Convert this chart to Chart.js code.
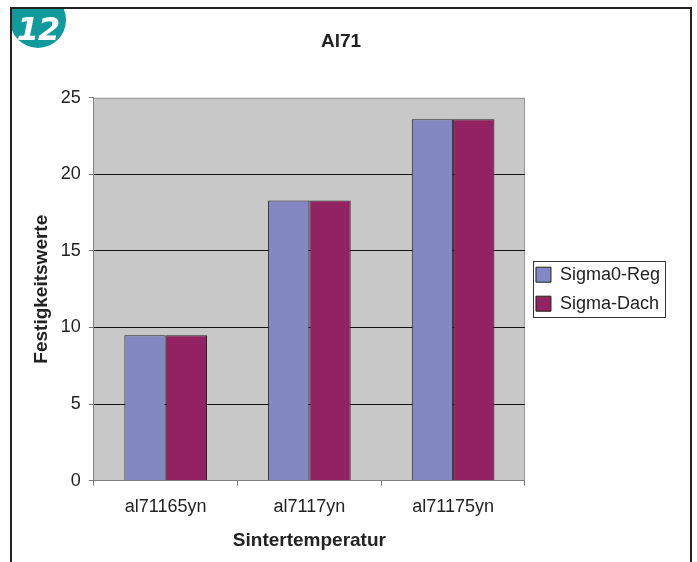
<!DOCTYPE html>
<html>
<head>
<meta charset="utf-8">
<script src="https://cdn.jsdelivr.net/npm/chart.js@4"></script>
<style>
  html, body { margin: 0; padding: 0; background: #fff; }
  #wrap { position: relative; width: 697px; height: 562px; overflow: hidden; }
  #frame { position: absolute; left: 10px; top: 7px; width: 678px; height: 600px;
           border: 2px solid #222; border-bottom: none; }
  #badge { position: absolute; left: 12px; top: 9px; width: 60px; height: 45px; overflow: hidden; }
  #badge .dot { position: absolute; left: -2px; top: -17px; width: 56px; height: 56px;
                border-radius: 50%; background: #119a9b; }
  #badge .num { position: absolute; left: 2px; top: 1px; width: 48px; text-align: center;
                color: #fff; font: italic bold 32px "DejaVu Sans", sans-serif; letter-spacing: -1px; }
  canvas { position: absolute; left: 0; top: 0; }
</style>
</head>
<body>
<div id="wrap">
  <div id="frame"></div>
  <canvas id="chart" width="697" height="562"></canvas>
  <div id="badge"><div class="dot"></div><div class="num">12</div></div>
</div>
<script>
// values
const categories = ['al71165yn', 'al7117yn', 'al71175yn'];
const seriesNames = ['Sigma0-Reg', 'Sigma-Dach'];
const sigma0Reg = [9.5, 18.3, 23.6];
const sigmaDach = [9.5, 18.3, 23.6];
const yMin = 0, yMax = 25, yStep = 5;

const FONT = '"Liberation Sans", Arial, sans-serif';

// grey plot area with a thin border on top/right
const plotBg = {
  id: 'plotBg',
  beforeDraw(chart) {
    const { ctx, chartArea: a } = chart;
    ctx.save();
    ctx.fillStyle = '#c8c8c8';
    ctx.fillRect(a.left, a.top, a.right - a.left, a.bottom - a.top);
    ctx.strokeStyle = '#999';
    ctx.lineWidth = 1;
    ctx.beginPath();
    ctx.moveTo(a.left, a.top + 0.5);
    ctx.lineTo(a.right - 0.5, a.top + 0.5);
    ctx.lineTo(a.right - 0.5, a.bottom);
    ctx.stroke();
    ctx.restore();
  }
};

// box round the legend
const legendBox = {
  id: 'legendBox',
  afterDraw(chart) {
    const boxes = chart.legend.legendHitBoxes;
    if (!boxes || !boxes.length) return;
    let l = Infinity, t = Infinity, r = -Infinity, b = -Infinity;
    boxes.forEach(h => {
      l = Math.min(l, h.left); t = Math.min(t, h.top);
      r = Math.max(r, h.left + h.width); b = Math.max(b, h.top + h.height);
    });
    const ctx = chart.ctx;
    ctx.save();
    ctx.strokeStyle = '#333';
    ctx.lineWidth = 1;
    ctx.strokeRect(Math.round(l - 3) + 0.5, Math.round(t - 5) + 0.5,
                   Math.round(r - l + 8), Math.round(b - t + 9));
    ctx.restore();
  }
};

new Chart(document.getElementById('chart'), {
  type: 'bar',
  data: {
    labels: categories,
    datasets: [{
      label: seriesNames[0],
      data: sigma0Reg,
      backgroundColor: '#8488c2',
      borderColor: '#222',
      borderWidth: 1
    }, {
      label: seriesNames[1],
      data: sigmaDach,
      backgroundColor: '#922262',
      borderColor: '#222',
      borderWidth: 1
    }]
  },
  options: {
    responsive: false,
    animation: false,
    layout: { padding: { left: 12, right: 27, top: 0, bottom: 10 } },
    datasets: { bar: { categoryPercentage: 0.575, barPercentage: 1 } },
    scales: {
      x: {
        grid: { drawOnChartArea: false, tickLength: 5, tickColor: '#777' },
        border: { color: '#808080' },
        ticks: { color: '#222', padding: 11, font: { family: FONT, size: 18 } },
        title: { display: true, text: 'Sintertemperatur', color: '#222',
                 padding: { top: 0, bottom: 0 },
                 font: { family: FONT, size: 19, weight: 'bold' } }
      },
      y: {
        min: yMin, max: yMax,
        grid: {
          color: c => (c.tick && c.tick.value === yMax) ? 'rgba(0,0,0,0)' : '#111',
          tickLength: 5, tickColor: '#777'
        },
        border: { color: '#808080' },
        ticks: { stepSize: yStep, color: '#222', padding: 8, font: { family: FONT, size: 18 } },
        title: { display: true, text: 'Festigkeitswerte', color: '#222',
                 padding: { top: 18, bottom: 0 },
                 font: { family: FONT, size: 19, weight: 'bold' } }
      }
    },
    plugins: {
      title: {
        display: true, text: 'Al71', color: '#222',
        padding: { top: 30, bottom: 45 },
        font: { family: FONT, size: 19, weight: 'bold' }
      },
      legend: {
        position: 'right',
        fullSize: false,
        labels: {
          color: '#222', boxWidth: 15, boxHeight: 15, padding: 11,
          font: { family: FONT, size: 18 }
        }
      },
      tooltip: { enabled: false }
    }
  },
  plugins: [plotBg, legendBox]
});
</script>
</body>
</html>
